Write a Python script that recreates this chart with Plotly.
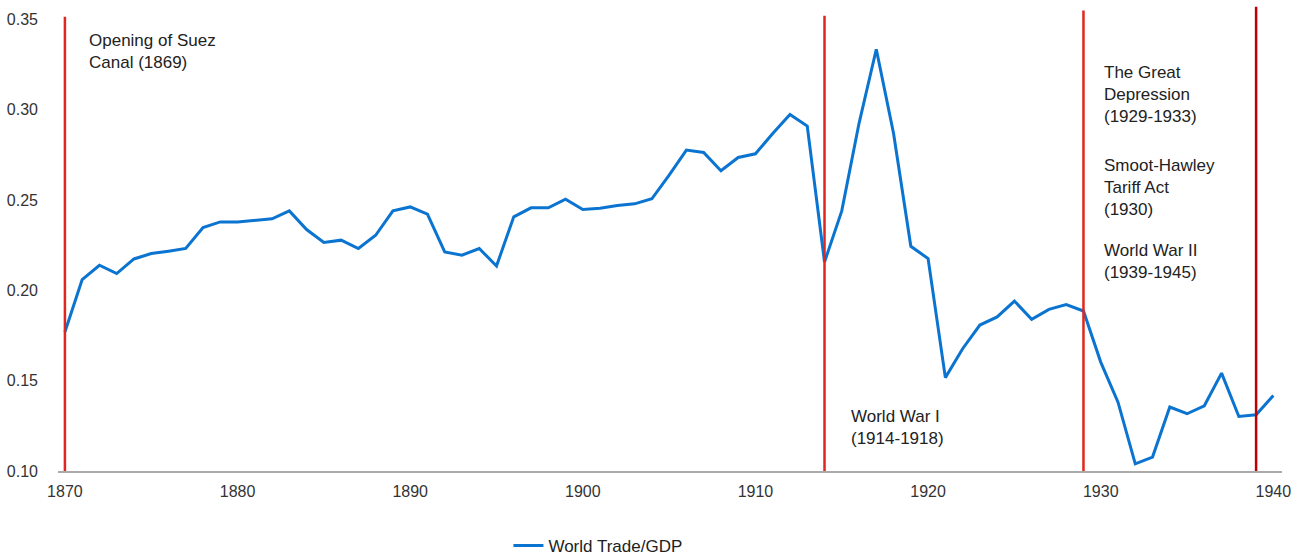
import plotly.graph_objects as go

years = list(range(1870, 1941))
trade_gdp = [
    0.177, 0.206, 0.2139, 0.2093, 0.2174, 0.2204, 0.2217, 0.2232, 0.2348, 0.2379,
    0.2379, 0.2389, 0.2396, 0.2440, 0.2337, 0.2265, 0.2278, 0.2232, 0.2305, 0.2440,
    0.2462, 0.2422, 0.2213, 0.2195, 0.2232, 0.2135, 0.2407, 0.2457, 0.2457, 0.2505,
    0.2448, 0.2455, 0.2470, 0.2479, 0.2507, 0.2638, 0.2777, 0.2764, 0.2662, 0.2736,
    0.2756, 0.2869, 0.2974, 0.2910, 0.2157, 0.2440, 0.2925, 0.3335, 0.2869, 0.2244,
    0.2176, 0.1517, 0.1677, 0.1808, 0.1853, 0.1941, 0.1840, 0.1895, 0.1921, 0.1886,
    0.1603, 0.1381, 0.1040, 0.1077, 0.1354, 0.1317, 0.1361, 0.1542, 0.1302, 0.1311,
    0.1418,
]

event_years = [1870, 1914, 1929, 1939]
event_tops = [0.3515, 0.352, 0.355, 0.357]
event_colors = ["#E0261E", "#E0261E", "#E0261E", "#C00000"]

labels = [
    "Opening of Suez<br>Canal (1869)",
    "World War I<br>(1914-1918)",
    "The Great<br>Depression<br>(1929-1933)",
    "Smoot-Hawley<br>Tariff Act<br>(1930)",
    "World War II<br>(1939-1945)",
]
label_x = [1871.3, 1915.4, 1930.1, 1930.1, 1930.1]
label_y = [0.3445, 0.1368, 0.327, 0.2755, 0.2282]

x_ticks = [1870, 1880, 1890, 1900, 1910, 1920, 1930, 1940]
y_ticks = [0.10, 0.15, 0.20, 0.25, 0.30, 0.35]

FONT = "Liberation Sans, Arial, sans-serif"

fig = go.Figure()
fig.add_trace(go.Scatter(
    x=years, y=trade_gdp, mode="lines", name="World Trade/GDP",
    line=dict(color="#0A74D0", width=3),
))

for yr, top, col in zip(event_years, event_tops, event_colors):
    fig.add_shape(type="line", xref="x", yref="y", x0=yr, x1=yr, y0=0.10, y1=top,
                  line=dict(color=col, width=2.5), layer="above")

for t, xx, yy in zip(labels, label_x, label_y):
    fig.add_annotation(x=xx, y=yy, xref="x", yref="y", text=t, showarrow=False,
                       xanchor="left", yanchor="top", align="left",
                       font=dict(family=FONT, size=17, color="#222222"))

fig.update_layout(
    width=1303, height=556,
    margin=dict(l=58, r=21, t=5, b=85, autoexpand=False),
    paper_bgcolor="white", plot_bgcolor="white",
    font=dict(family=FONT, size=16, color="#333333"),
    showlegend=True,
    legend=dict(orientation="h", x=0.368, xanchor="left", y=-0.122, yanchor="top",
                font=dict(family=FONT, size=17, color="#222222"),
                itemwidth=30, tracegroupgap=0),
)
fig.update_xaxes(
    range=[1869.6, 1940.5], tickvals=x_ticks, ticktext=[str(v) for v in x_ticks],
    showgrid=False, zeroline=False, showline=True, linecolor="#AAAAAA", linewidth=1.5,
    ticks="", ticklabelstandoff=5, tickfont=dict(size=16, color="#333333"),
    automargin=False,
)
fig.update_yaxes(
    range=[0.10, 0.358], tickvals=y_ticks, ticktext=[f"{v:.2f}" for v in y_ticks],
    showgrid=False, zeroline=False, showline=False,
    ticks="", ticklabelstandoff=19, tickfont=dict(size=16, color="#333333"),
    automargin=False,
)

fig.write_html("out.html", config={"displayModeBar": False},
               post_script="document.body.style.margin='0px';")
